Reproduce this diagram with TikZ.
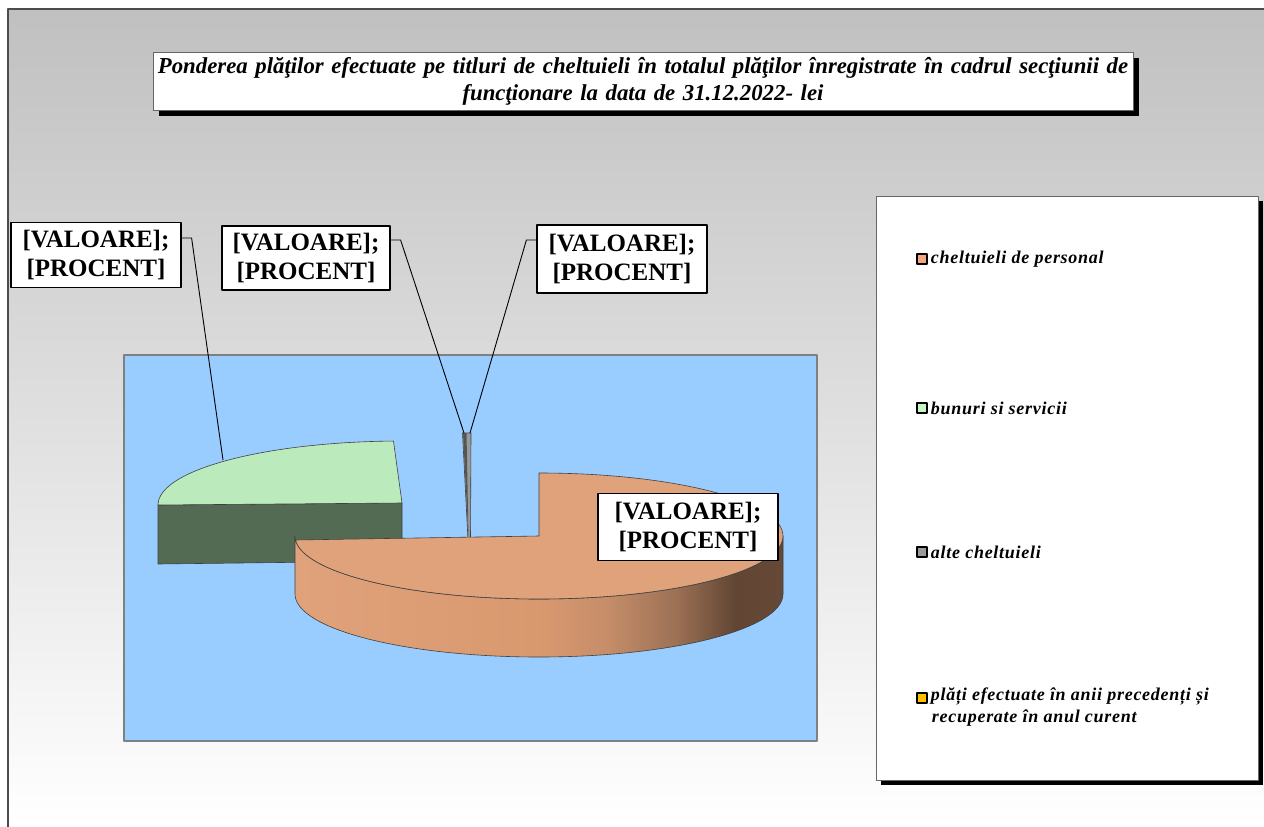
\documentclass[tikz,border=0pt]{standalone}
\usepackage{fontspec}
\setmainfont{Liberation Serif}
\usetikzlibrary{positioning,shadows}

\definecolor{chartTop}{HTML}{C0C0C0}
\definecolor{plotBlue}{HTML}{99CCFF}
\definecolor{persTop}{HTML}{E0A27B}
\definecolor{persA}{HTML}{D9996F}
\definecolor{persB}{HTML}{C58D69}
\definecolor{persC}{HTML}{9C7155}
\definecolor{persD}{HTML}{624634}
\definecolor{persE}{HTML}{654835}
\definecolor{bunTop}{HTML}{BBEBBD}
\definecolor{bunSide}{HTML}{536B53}
\definecolor{alteFill}{HTML}{9A9A9A}
\definecolor{alteDark}{HTML}{555555}
\definecolor{platiKey}{HTML}{FFC000}
\definecolor{persKey}{HTML}{F0A880}
\definecolor{bunKey}{HTML}{C8F5C8}

\pgfdeclarehorizontalshading{persside}{100bp}{color(0bp)=(persTop); color(25bp)=(persTop);
  color(50bp)=(persA); color(57bp)=(persB); color(64bp)=(persC); color(70bp)=(persD);
  color(75bp)=(persE); color(100bp)=(persE)}

\newcommand{\valtext}{[VALOARE];\\{}[PROCENT]}

\tikzstyle{titlebox} = [rectangle, draw=gray!80!black, fill=white, line width=1pt,
    minimum width=980pt, minimum height=58pt, text width=975pt, align=center, inner sep=1pt,
    font=\fontsize{22.8}{27}\selectfont\bfseries\itshape,
    drop shadow={shadow xshift=6pt, shadow yshift=-6pt, opacity=1, fill=black}]
\tikzstyle{valbox} = [rectangle, draw, fill=white, line width=1.2pt, align=center,
    minimum width=170pt, minimum height=65pt, inner sep=1pt,
    font=\fontsize{25}{29}\selectfont\bfseries]
\tikzstyle{legkey} = [rectangle, draw, line width=1.5pt, minimum size=10pt, inner sep=0pt]
\tikzstyle{legtext} = [inner sep=0pt, anchor=west, align=left,
    font=\fontsize{18}{22}\selectfont\bfseries\itshape\addfontfeature{LetterSpace=4}]
\tikzstyle{slice} = [draw=black!75, line width=0.6pt]
\tikzstyle{leader} = [draw=black, line width=0.9pt]

\begin{document}
\begin{tikzpicture}[x=1pt,y=-1pt,line join=round]
  \useasboundingbox (0,0) rectangle (1264,827);

  % chart area and plot area
  \shade[top color=chartTop, bottom color=white] (8,9) rectangle (1264,827);
  \draw[gray!60!black, line width=1.5pt] (8,827) -- (8,9) -- (1264,9);
  \draw[gray, fill=plotBlue, line width=1.2pt] (124,355) rectangle (817,741);

  \node[titlebox] (title) at (643,81)
    {Ponderea plăţilor efectuate pe titluri de cheltuieli în totalul plăţilor înregistrate în cadrul secţiunii de\\
     funcţionare la data de 31.12.2022- lei};

  % bunuri si servicii
  \coordinate (bc) at (402,503);
  \path[slice, fill=bunSide] (158,505) -- (bc) -- (402,561) -- (158,564) -- cycle;
  \path[slice, fill=bunTop] (bc) -- (158,505)
    arc[start angle=180, end angle=268, x radius=244, y radius=64] -- cycle;

  % alte cheltuieli
  \path[slice, fill=alteFill] (462.5,433) -- (471,433) -- (470.5,540) -- (468,540) -- cycle;
  \fill[alteDark] (463,433) -- (466.5,433) -- (468.5,538) -- cycle;

  % cheltuieli de personal
  \coordinate (pc) at (539,536);
  \shadedraw[slice, shading=persside] (783,536)
    arc[start angle=0, end angle=180, x radius=244, y radius=63] -- (295,594)
    arc[start angle=180, end angle=0, x radius=244, y radius=63] -- cycle;
  \path[slice, fill=persTop] (pc) -- (539,473)
    arc[start angle=-90, end angle=180, x radius=244, y radius=63] -- (295,540) -- cycle;

  % data labels
  \coordinate (bunTip) at (223,460);
  \coordinate (alteTipA) at (464,433);
  \coordinate (alteTipB) at (470,433);
  \node[valbox] (lblBun) at (96,255) {\valtext};
  \node[valbox, minimum width=168pt, minimum height=64pt] (lblAlteA) at (306,258) {\valtext};
  \node[valbox, minimum height=68pt] (lblAlteB) at (622,259) {\valtext};
  \node[valbox, minimum width=180pt, minimum height=67pt] (lblPers) at (688,527) {\valtext};
  \draw[leader] ([yshift=17pt]lblBun.east) -- ++(10,0) -- (bunTip);
  \draw[leader] ([yshift=18pt]lblAlteA.east) -- ++(10,0) -- (alteTipA);
  \draw[leader] ([yshift=19pt]lblAlteB.west) -- ++(-10,0) -- (alteTipB);

  % legend
  \node[rectangle, draw=gray!80!black, fill=white, line width=1pt, minimum width=382pt,
        minimum height=584pt, drop shadow={shadow xshift=5pt, shadow yshift=-5pt, opacity=1, fill=black}]
        (legend) at (1067,488) {};
  \node[legkey, fill=persKey] (kPers) at (922,259) {};
  \node[legtext, right=3pt of kPers] (tPers) {cheltuieli de personal};
  \node[legkey, fill=bunKey] (kBun) at (922,408) {};
  \node[legtext, right=3pt of kBun] (tBun) {bunuri si servicii};
  \node[legkey, fill=alteFill] (kAlte) at (922,552) {};
  \node[legtext, right=3pt of kAlte] (tAlte) {alte cheltuieli};
  \node[legkey, fill=platiKey] (kPlati) at (922,698) {};
  \node[legtext, anchor=north west] (tPlati) at ([xshift=3pt,yshift=10pt]kPlati.east)
    {plăți efectuate în anii precedenți și\\ \hspace{1pt}recuperate în anul curent};
\end{tikzpicture}
\end{document}
